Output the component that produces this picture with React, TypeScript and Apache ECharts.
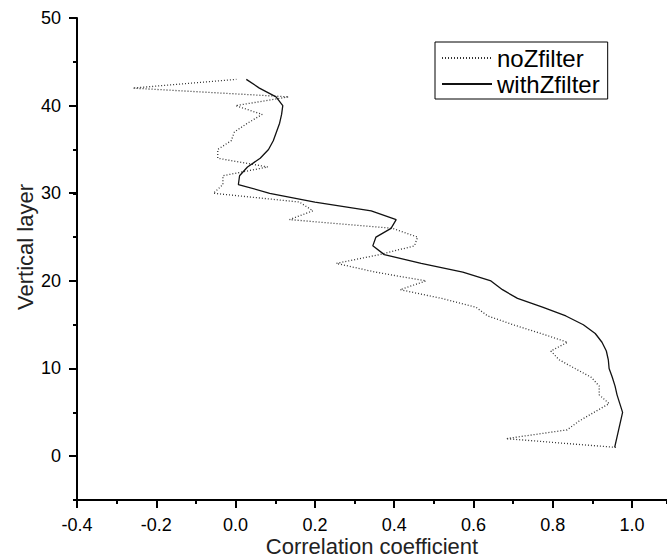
import React, { useEffect, useRef } from "react";
import * as echarts from "echarts";

const layers = [
  1, 2, 3, 4, 5, 6, 7, 8, 9, 10, 11, 12, 13, 14, 15, 16, 17, 18, 19, 20, 21, 22,
  23, 24, 25, 26, 27, 28, 29, 30, 31, 32, 33, 34, 35, 36, 37, 38, 39, 40, 41, 42, 43,
];

const noZfilter = [
  0.959, 0.682, 0.836, 0.866, 0.904, 0.942, 0.917, 0.917, 0.897, 0.856, 0.816,
  0.795, 0.837, 0.77, 0.7, 0.636, 0.606, 0.52, 0.415, 0.48, 0.353, 0.254, 0.363,
  0.451, 0.459, 0.396, 0.136, 0.195, 0.161, -0.056, -0.032, -0.032, 0.081,
  -0.045, -0.045, -0.011, -0.003, 0.03, 0.067, 0.0, 0.134, -0.259, 0.002,
];

const withZfilter = [
  0.956, 0.961, 0.966, 0.971, 0.976, 0.969, 0.962, 0.957, 0.95, 0.942, 0.94,
  0.935, 0.924, 0.907, 0.877, 0.833, 0.774, 0.711, 0.673, 0.644, 0.573, 0.468,
  0.375, 0.346, 0.354, 0.392, 0.405, 0.342, 0.2, 0.086, 0.007, 0.01, 0.03,
  0.062, 0.083, 0.095, 0.103, 0.111, 0.116, 0.119, 0.102, 0.06, 0.027,
];

const xTicks = [-0.4, -0.2, 0.0, 0.2, 0.4, 0.6, 0.8, 1.0];
const yTicks = [0, 10, 20, 30, 40, 50];

const FONT = "'Liberation Sans', Arial, Helvetica, sans-serif";
const X_MIN = -0.4;
const X_MAX = 1.088;

export default function App() {
  const ref = useRef<HTMLDivElement>(null);

  useEffect(() => {
    if (!ref.current) return;
    const chart = echarts.init(ref.current, undefined, { renderer: "svg" });
    const noData = layers.map((y, i) => [noZfilter[i], y]);
    const withData = layers.map((y, i) => [withZfilter[i], y]);

    chart.setOption({
      animation: false,
      backgroundColor: "#fff",
      grid: [
        { left: 77, top: 18, right: 0, bottom: 60, containLabel: false },
        { left: 77, top: 18, right: 0, bottom: 104, containLabel: false },
      ],
      xAxis: [
        {
          type: "value",
          gridIndex: 0,
          position: "bottom",
          min: X_MIN,
          max: X_MAX,
          interval: 0.2,
          axisLine: { show: true, onZero: false, lineStyle: { color: "#000", width: 2 } },
          axisTick: { show: true, inside: false, length: 8, lineStyle: { color: "#000", width: 2 } },
          splitLine: { show: false },
          axisLabel: {
            show: true,
            margin: 16,
            fontSize: 18,
            color: "#000",
            fontFamily: FONT,
            showMaxLabel: false,
            formatter: (v: number) => {
              const t = xTicks.find((k) => Math.abs(k - v) < 1e-6);
              return t === undefined ? "" : t.toFixed(1);
            },
          },
        },
        {
          type: "value",
          gridIndex: 0,
          position: "bottom",
          offset: 0,
          min: X_MIN,
          max: X_MAX,
          interval: 0.1,
          axisLine: { show: false, onZero: false },
          axisTick: { show: true, inside: false, length: 4, lineStyle: { color: "#000", width: 2 } },
          splitLine: { show: false },
          axisLabel: { show: false },
        },
        {
          type: "value",
          gridIndex: 1,
          min: X_MIN,
          max: X_MAX,
          show: false,
          axisLine: { onZero: false },
        },
      ],
      yAxis: [
        {
          type: "value",
          gridIndex: 0,
          position: "left",
          min: -5,
          max: 50,
          interval: 5,
          axisLine: { show: true, onZero: false, lineStyle: { color: "#000", width: 2 } },
          axisTick: { show: true, inside: false, length: 4, lineStyle: { color: "#000", width: 2 } },
          splitLine: { show: false },
          axisLabel: { show: false },
        },
        {
          type: "value",
          gridIndex: 1,
          position: "left",
          min: 0,
          max: 50,
          interval: 10,
          axisLine: { show: false, onZero: false },
          axisTick: { show: true, inside: false, length: 8, lineStyle: { color: "#000", width: 2 } },
          splitLine: { show: false },
          axisLabel: {
            show: true,
            margin: 16,
            fontSize: 18,
            color: "#000",
            fontFamily: FONT,
            formatter: (v: number) => {
              const t = yTicks.find((k) => Math.abs(k - v) < 1e-6);
              return t === undefined ? "" : String(t);
            },
          },
        },
      ],
      legend: {
        data: ["noZfilter", "withZfilter"],
        orient: "vertical",
        left: 435,
        top: 42,
        itemWidth: 50,
        itemHeight: 14,
        itemGap: 2,
        padding: [4, 8, 3, 6],
        borderColor: "#000",
        borderWidth: 1,
        borderRadius: 0,
        backgroundColor: "#fff",
        selectedMode: false,
        itemStyle: { opacity: 0, borderWidth: 0 },
        textStyle: { fontSize: 24, color: "#000", fontFamily: FONT },
      },
      graphic: [
        {
          type: "text",
          x: 372,
          y: 546,
          style: {
            text: "Correlation coefficient",
            fontSize: 22,
            fontFamily: FONT,
            fill: "#222",
            align: "center",
            verticalAlign: "middle",
          },
        },
        {
          type: "text",
          x: 25,
          y: 247,
          rotation: Math.PI / 2,
          style: {
            text: "Vertical layer",
            fontSize: 22,
            fontFamily: FONT,
            fill: "#222",
            align: "center",
            verticalAlign: "middle",
          },
        },
      ],
      series: [
        {
          name: "noZfilter",
          type: "line",
          xAxisIndex: 0,
          yAxisIndex: 0,
          data: noData,
          symbol: "none",
          showSymbol: false,
          smooth: false,
          lineStyle: { type: [1, 2], width: 1.3, color: "#333" },
          itemStyle: { color: "#333" },
        },
        {
          name: "withZfilter",
          type: "line",
          xAxisIndex: 0,
          yAxisIndex: 0,
          data: withData,
          symbol: "none",
          showSymbol: false,
          smooth: false,
          lineStyle: { type: "solid", width: 1.3, color: "#111" },
          itemStyle: { color: "#111" },
        },
      ],
    });

    return () => chart.dispose();
  }, []);

  return (
    <div
      ref={ref}
      style={{ position: "absolute", left: 0, top: 0, width: 667, height: 560, background: "#fff" }}
    />
  );
}
